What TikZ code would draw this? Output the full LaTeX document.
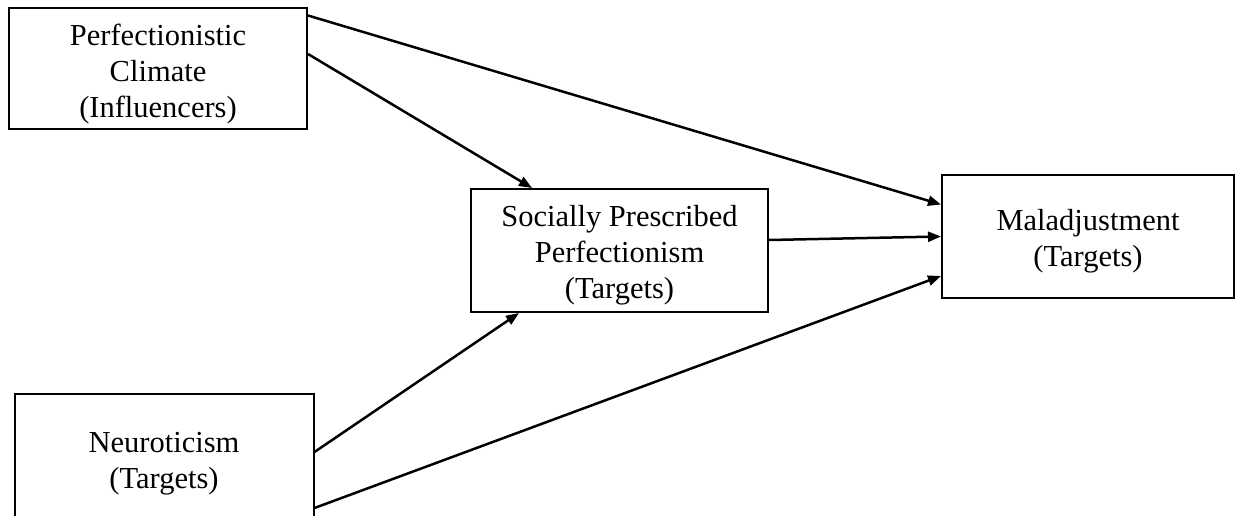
\documentclass[tikz,border=0pt]{standalone}
\usepackage{fontspec}
\setmainfont{Liberation Serif}
\usetikzlibrary{arrows.meta}
% tall invisible strut that lowers each label block a little inside its box
\newcommand\boxtopstrut{\rule{0pt}{31pt}}
\begin{document}
\begin{tikzpicture}[x=1pt,y=-1pt,
  box/.style={draw=black, line width=2pt, fill=white, align=center, inner sep=0pt,
    font=\fontsize{30.5}{36}\selectfont},
  link/.style={line width=2.5pt, -{Triangle[length=13pt,width=10pt]}}]
  \useasboundingbox (0,0) rectangle (1236,516);
  \clip (0,0) rectangle (1236,516);

  % variables
  \node[box, minimum width=298pt, minimum height=121pt] (climate) at (158,69)
    {\boxtopstrut Perfectionistic\\Climate\\(Influencers)};
  \node[box, minimum width=297pt, minimum height=123pt] (spp) at (619.5,250.5)
    {\boxtopstrut Socially Prescribed\\Perfectionism\\(Targets)};
  \node[box, minimum width=292pt, minimum height=123pt] (mal) at (1088,236.5)
    {\boxtopstrut Maladjustment\\(Targets)};
  \node[box, minimum width=299pt, minimum height=128pt] (neuro) at (164,458)
    {\boxtopstrut Neuroticism\\(Targets)};

  % paths
  \draw[link] ([yshift=-8pt]climate.north east) -- ([yshift=32pt]mal.west);
  \draw[link] ([yshift=15pt]climate.east) -- ([xshift=62pt]spp.north west);
  \draw[link] ([yshift=10.5pt]spp.east) -- (mal.west);
  \draw[link] ([yshift=6pt]neuro.east) -- ([xshift=49pt]spp.south west);
  \draw[link] ([yshift=-50pt]neuro.east) -- ([yshift=-39.5pt]mal.west);
\end{tikzpicture}
\end{document}
